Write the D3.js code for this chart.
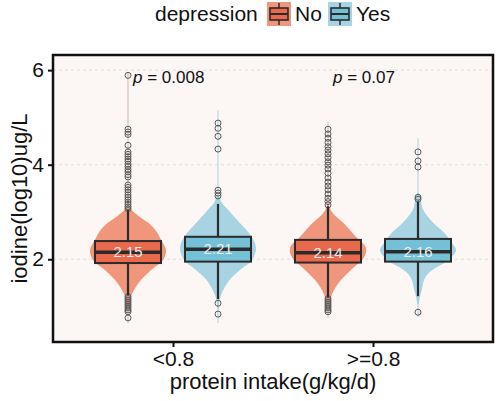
<!DOCTYPE html>
<html><head><meta charset="utf-8">
<script src="https://cdn.jsdelivr.net/npm/d3@7"></script>
<style>body{margin:0;background:#fff;}svg{display:block;font-family:"Liberation Sans",Arial,sans-serif;}</style>
</head><body>
<script>
// ---------- data ----------
const groups = ["<0.8", ">=0.8"];
const depression = ["No", "Yes"];
const yTicks = [2, 4, 6];
const pLabels = ["0.008", "0.07"];

const boxGroup = ["<0.8", "<0.8", ">=0.8", ">=0.8"];
const boxDep = ["No", "Yes", "No", "Yes"];
const q1 = [1.92, 1.95, 1.93, 1.95];
const medians = [2.15, 2.21, 2.14, 2.16];
const q3 = [2.385, 2.475, 2.41, 2.43];
const whiskerLow = [1.24, 1.16, 1.2, 1.22];
const whiskerHigh = [3.04, 3.17, 3.12, 3.22];
const tailLow = [0.65, 0.65, 0.76, 0.78];
const tailHigh = [5.95, 5.15, 4.9, 4.56];

const outliersNoLow = [5.89, 4.75, 4.69, 4.64, 4.41, 4.27, 4.22, 4.17, 4.12, 4.07, 4.01, 3.96, 3.9, 3.85, 3.79, 3.74,
  3.57, 3.52, 3.47, 3.42, 3.36, 3.31, 3.26, 3.21, 3.16, 3.11, 3.07,
  1.21, 1.17, 1.13, 1.09, 1.05, 1.01, 0.97, 0.93, 0.89, 0.76];
const outliersYesLow = [4.88, 4.77, 4.6, 4.33, 3.46, 3.4, 3.34, 1.07, 0.84];
const outliersNoHigh = [4.75, 4.65, 4.56, 4.47, 4.38, 4.31, 4.23, 4.15, 4.06, 3.99, 3.91, 3.82, 3.72, 3.63, 3.55, 3.47, 3.38, 3.29, 3.22, 3.15,
  1.17, 1.13, 1.09, 1.05, 1.01, 0.97, 0.93, 0.89];
const outliersYesHigh = [4.27, 4.08, 3.95, 3.31, 3.27, 0.88];

// violin profiles: [value, relative half-width]
const densityNoLow = [[1.0, 0.02], [1.2, 0.07], [1.35, 0.16], [1.56, 0.34], [1.77, 0.6], [1.98, 0.92], [2.19, 1.0], [2.41, 0.87], [2.6, 0.74], [2.77, 0.53], [2.9, 0.3], [3.04, 0.1], [3.15, 0.02]];
const densityYesLow = [[0.95, 0.02], [1.14, 0.04], [1.35, 0.14], [1.56, 0.3], [1.77, 0.57], [1.98, 0.89], [2.24, 1.0], [2.47, 0.89], [2.77, 0.57], [3.04, 0.27], [3.2, 0.1], [3.35, 0.03]];
const densityNoHigh = [[1.05, 0.02], [1.2, 0.08], [1.35, 0.16], [1.56, 0.34], [1.77, 0.6], [2.04, 0.95], [2.24, 1.0], [2.47, 0.74], [2.77, 0.4], [2.95, 0.15], [3.1, 0.04], [3.2, 0.01]];
const densityYesHigh = [[1.05, 0.02], [1.2, 0.05], [1.35, 0.1], [1.56, 0.16], [1.7, 0.27], [1.83, 0.49], [1.98, 0.8], [2.19, 1.0], [2.34, 0.9], [2.55, 0.7], [2.77, 0.4], [3.04, 0.14], [3.25, 0.07], [3.4, 0.02]];

const outlierSets = [outliersNoLow, outliersYesLow, outliersNoHigh, outliersYesHigh];
const densitySets = [densityNoLow, densityYesLow, densityNoHigh, densityYesHigh];

const boxColors = {No: "#E8694B", Yes: "#74C1D7"};
const violinColors = {No: "#F0967D", Yes: "#A7D3E2"};
const tailColors = {No: "#D9C3BD", Yes: "#BBD7E2"};

// ---------- layout ----------
const W = 500, H = 401;
const panel = {left: 53, right: 493, top: 55, bottom: 342};
const svg = d3.select("body").append("svg").attr("width", W).attr("height", H);

const x = d3.scalePoint().domain(groups).range([panel.left, panel.right]).padding(0.6);
const xDodge = d3.scaleBand().domain(depression).range([-90, 90]);
const y = d3.scaleLinear().domain([0.25, 6.32]).range([panel.bottom, panel.top]);
const boxW = 66, violinHalf = 38;

// panel background
svg.append("rect").attr("x", panel.left).attr("y", panel.top)
  .attr("width", panel.right - panel.left).attr("height", panel.bottom - panel.top)
  .attr("fill", "#FCF6F4");

// grid
svg.append("g").selectAll("line").data(yTicks).join("line")
  .attr("x1", panel.left).attr("x2", panel.right)
  .attr("y1", d => y(d)).attr("y2", d => y(d))
  .attr("stroke", "#D9D9D9").attr("stroke-width", 0.8).attr("stroke-dasharray", "3,3");

const cx = i => x(boxGroup[i]) + xDodge(boxDep[i]) + xDodge.bandwidth() / 2;
const idx = d3.range(boxGroup.length);

// tails
svg.append("g").selectAll("line").data(idx).join("line")
  .attr("x1", cx).attr("x2", cx)
  .attr("y1", i => y(tailLow[i])).attr("y2", i => y(tailHigh[i]))
  .attr("stroke", i => tailColors[boxDep[i]]).attr("stroke-width", 1.2);

// violins
const area = d3.area().curve(d3.curveCatmullRom)
  .y(d => y(d[0]));
idx.forEach(i => {
  const c = cx(i);
  svg.append("path").datum(densitySets[i])
    .attr("d", area.x0(d => c - d[1] * violinHalf).x1(d => c + d[1] * violinHalf))
    .attr("fill", violinColors[boxDep[i]]).attr("stroke", "none");
});

// outliers
idx.forEach(i => {
  svg.append("g").selectAll("circle").data(outlierSets[i]).join("circle")
    .attr("cx", cx(i)).attr("cy", d => y(d)).attr("r", 3)
    .attr("fill", "none").attr("stroke", "#5A5A5A").attr("stroke-width", 1);
});

// whiskers
svg.append("g").selectAll("line").data(idx).join("line")
  .attr("x1", cx).attr("x2", cx)
  .attr("y1", i => y(whiskerLow[i])).attr("y2", i => y(whiskerHigh[i]))
  .attr("stroke", "#2B2B2B").attr("stroke-width", 2.2);

// boxes
svg.append("g").selectAll("rect").data(idx).join("rect")
  .attr("x", i => cx(i) - boxW / 2).attr("width", boxW)
  .attr("y", i => y(q3[i])).attr("height", i => y(q1[i]) - y(q3[i]))
  .attr("fill", i => boxColors[boxDep[i]]).attr("stroke", "#2B2B2B").attr("stroke-width", 2);

// medians
svg.append("g").selectAll("line").data(idx).join("line")
  .attr("x1", i => cx(i) - boxW / 2).attr("x2", i => cx(i) + boxW / 2)
  .attr("y1", i => y(medians[i])).attr("y2", i => y(medians[i]))
  .attr("stroke", "#2B2B2B").attr("stroke-width", 3.5);

// median labels
svg.append("g").selectAll("text").data(idx).join("text")
  .attr("x", cx).attr("y", i => y(medians[i]) + 5)
  .attr("text-anchor", "middle").attr("font-size", 15).attr("fill", "#EDEDED")
  .text(i => medians[i].toFixed(2));

// p-values
const pt = svg.append("g").selectAll("text").data(groups).join("text")
  .attr("x", d => x(d) - 40).attr("y", 83).attr("font-size", 17).attr("fill", "#111");
pt.append("tspan").attr("font-style", "italic").text("p");
pt.append("tspan").text((d, i) => " = " + pLabels[i]);

// panel border
svg.append("rect").attr("x", panel.left).attr("y", panel.top)
  .attr("width", panel.right - panel.left).attr("height", panel.bottom - panel.top)
  .attr("fill", "none").attr("stroke", "#111").attr("stroke-width", 2.5);

// axes
const yAxis = svg.append("g").attr("transform", `translate(${panel.left},0)`)
  .call(d3.axisLeft(y).tickValues(yTicks).tickFormat(d3.format("d")).tickSize(5).tickPadding(4));
yAxis.select(".domain").remove();
yAxis.selectAll("line").attr("stroke", "#111").attr("stroke-width", 2);
yAxis.selectAll("text").attr("font-size", 21).attr("fill", "#111").attr("font-family", "Liberation Sans, Arial, sans-serif");

const xAxis = svg.append("g").attr("transform", `translate(0,${panel.bottom})`)
  .call(d3.axisBottom(x).tickSize(5).tickPadding(4));
xAxis.select(".domain").remove();
xAxis.selectAll("line").attr("stroke", "#111").attr("stroke-width", 2);
xAxis.selectAll("text").attr("font-size", 21).attr("fill", "#111").attr("font-family", "Liberation Sans, Arial, sans-serif");

// axis titles
svg.append("text").attr("x", (panel.left + panel.right) / 2).attr("y", 389)
  .attr("text-anchor", "middle").attr("font-size", 22).attr("fill", "#111")
  .text("protein intake(g/kg/d)");
svg.append("text").attr("transform", `translate(27,${(panel.top + panel.bottom) / 2}) rotate(-90)`)
  .attr("text-anchor", "middle").attr("font-size", 22).attr("fill", "#111")
  .text("iodine(log10)ug/L");

// legend
const lg = svg.append("g");
lg.append("text").attr("x", 155).attr("y", 21).attr("font-size", 21).attr("fill", "#111").text("depression");
const keyX = {No: 267, Yes: 328};
depression.forEach(d => {
  const kx = keyX[d];
  lg.append("rect").attr("x", kx).attr("y", 2).attr("width", 24).attr("height", 24).attr("fill", violinColors[d]);
  lg.append("line").attr("x1", kx + 12).attr("x2", kx + 12).attr("y1", 3).attr("y2", 25).attr("stroke", "#2B2B2B").attr("stroke-width", 1.5);
  lg.append("rect").attr("x", kx + 3).attr("y", 8).attr("width", 18).attr("height", 12)
    .attr("fill", boxColors[d]).attr("stroke", "#2B2B2B").attr("stroke-width", 1.6);
  lg.append("line").attr("x1", kx + 3).attr("x2", kx + 21).attr("y1", 14).attr("y2", 14).attr("stroke", "#2B2B2B").attr("stroke-width", 2);
  lg.append("text").attr("x", kx + 28).attr("y", 21).attr("font-size", 21).attr("fill", "#111").text(d);
});
</script>
</body></html>
